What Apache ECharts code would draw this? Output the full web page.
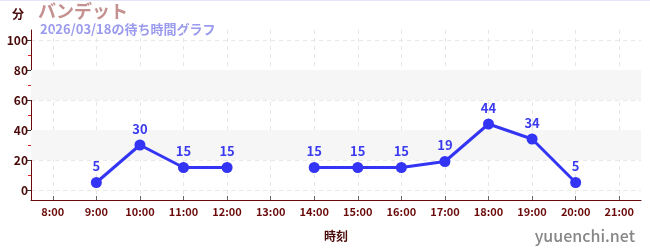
<!DOCTYPE html>
<html>
<head>
<meta charset="utf-8">
<script src="https://cdn.jsdelivr.net/npm/echarts@6/dist/echarts.min.js"></script>
<style>
html,body{margin:0;padding:0;background:#fff;}
#chart{width:650px;height:250px;}
#topline{position:absolute;left:0;top:0;width:650px;height:1px;background:#e4e4fa;z-index:2;}
</style>
</head>
<body>
<div id="topline"></div>
<div id="chart"></div>
<script>
// Hourly waiting times (minutes)
const hours = ['8:00','9:00','10:00','11:00','12:00','13:00','14:00','15:00','16:00','17:00','18:00','19:00','20:00','21:00'];
const waitMinutes = [null, 5, 30, 15, 15, null, 15, 15, 15, 19, 44, 34, 5, null];
const yTickValues = [0, 20, 40, 60, 80, 100];
const yMinorTickValues = [10, 30, 50, 70, 90];
const shadedBands = [[20, 40], [60, 80]];

const font = '"Noto Sans CJK JP", "Noto Sans", sans-serif';
const yMin = -20 / 3, yMax = 320 / 3;
// hour slots centred on each category, used for grid lines and ticks
const slotIndexes = hours.map((_, i) => i);

const chart = echarts.init(document.getElementById('chart'), null, {renderer: 'canvas'});
chart.setOption({
  animation: false,
  textStyle: {fontFamily: font},
  graphic: [
    {type: 'text', left: 12, top: 8, style: {text: '分', fill: '#4a0a0a', font: 'bold 12px ' + font}},
    {type: 'text', left: 38, top: 2, style: {text: 'バンデット', fill: '#c49090', font: 'bold 18px ' + font}},
    {type: 'text', left: 40, top: 23, style: {text: '2026/03/18の待ち時間グラフ', fill: '#9a9aee', font: 'bold 13px ' + font}},
    {type: 'text', right: 15, bottom: 6, style: {text: 'yuuenchi.net', fill: '#868686', font: '500 16px ' + font}}
  ],
  grid: {left: 31, right: 9, top: 30, bottom: 50},
  xAxis: [
    {
      type: 'category',
      data: hours,
      boundaryGap: true,
      name: '時刻',
      nameLocation: 'middle',
      nameGap: 30,
      nameTextStyle: {color: '#4a0a0a', fontWeight: 'bold', fontSize: 12},
      axisLine: {onZero: false, lineStyle: {color: '#6a0a0a', width: 1}},
      axisTick: {show: false},
      axisLabel: {color: '#6a0a0a', fontSize: 11, fontWeight: 'bold', margin: 6},
      splitLine: {show: false},
      z: 3
    },
    {
      type: 'value', min: -0.5, max: hours.length - 0.5, position: 'bottom',
      axisLine: {show: false, onZero: false},
      axisTick: {show: true, inside: true, length: 4, customValues: slotIndexes, lineStyle: {color: '#666'}},
      axisLabel: {show: false},
      splitLine: {show: true, lineStyle: {color: '#e6e6e6', type: [4, 4]}}
    }
  ],
  yAxis: [
    {
      type: 'value', min: yMin, max: yMax,
      axisLine: {show: true, onZero: false, lineStyle: {color: '#6a0a0a'}},
      axisTick: {show: true, length: 5, customValues: yTickValues, lineStyle: {color: '#333'}},
      axisLabel: {customValues: yTickValues, color: '#4a0a0a', fontSize: 12, fontWeight: 'bold', margin: 3},
      splitLine: {show: true, lineStyle: {color: '#e8e8e8', type: [4, 4]}}
    },
    {
      type: 'value', min: yMin, max: yMax, position: 'left', offset: 0,
      axisLine: {show: false, onZero: false},
      axisTick: {show: true, length: 3, customValues: yMinorTickValues, lineStyle: {color: '#e02020'}},
      axisLabel: {show: false},
      splitLine: {show: false}
    }
  ],
  series: [{
    type: 'line',
    xAxisIndex: 0,
    yAxisIndex: 0,
    data: waitMinutes,
    connectNulls: false,
    symbol: 'circle',
    symbolSize: 11,
    itemStyle: {color: '#3434f4'},
    lineStyle: {color: '#3434f4', width: 3},
    label: {show: true, position: 'top', color: '#3a3af0', fontSize: 13, fontWeight: 'bold', distance: 4},
    markArea: {
      silent: true,
      itemStyle: {color: '#f6f6f6'},
      data: shadedBands.map(b => [{yAxis: b[0]}, {yAxis: b[1]}])
    },
    z: 5
  }]
});
</script>
</body>
</html>
